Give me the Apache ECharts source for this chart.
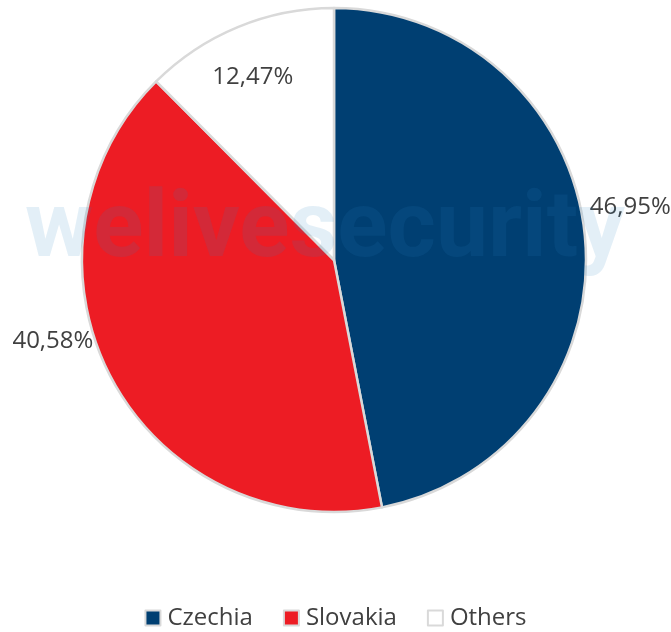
<!DOCTYPE html>
<html>
<head>
<meta charset="utf-8">
<script src="https://cdn.jsdelivr.net/npm/echarts@6/dist/echarts.min.js"></script>
<style>
  html, body { margin: 0; padding: 0; background: #fff; }
  #chart { width: 671px; height: 632px; }
</style>
</head>
<body>
<div id="chart"></div>
<script>
// 数据
const countries = ['Czechia', 'Slovakia', 'Others'];
const shares = [46.95, 40.58, 12.47];
const sliceColors = ['#003F72', '#ED1C24', '#FFFFFF'];

const COLORS = {
    text: '#404040',
    border: '#D9D9D9',
    watermark: 'rgba(40,130,190,0.13)'
};

const chart = echarts.init(document.getElementById('chart'));

const pieData = countries.map((name, i) => ({
    name: name,
    value: shares[i],
    itemStyle: { color: sliceColors[i] },
    label: { position: i === 2 ? 'inside' : 'outside' }
}));

// Excel 风格的标签位置微调
function labelShift(params) {
    if (params.dataIndex === 0) return { dy: -29 };
    if (params.dataIndex === 1) return { dx: -13, dy: -37 };
    return { dx: -32, dy: -64 };
}

const option = {
    animation: false,
    textStyle: { fontFamily: 'Open Sans' },
    legend: {
        top: 601,
        left: 'center',
        icon: 'rect',
        itemWidth: 15,
        itemHeight: 15,
        itemGap: 30,
        textStyle: { fontSize: 24, color: COLORS.text, fontFamily: 'Open Sans', padding: [0, 0, 0, 2] },
        data: countries
    },
    graphic: [{
        type: 'text',
        left: 25,
        top: 186,
        z: 100,
        silent: true,
        style: {
            text: 'welivesecurity',
            font: 'bold 93px Roboto',
            fill: COLORS.watermark
        }
    }],
    series: [{
        type: 'pie',
        center: [334, 260],
        radius: 252,
        startAngle: 90,
        clockwise: true,
        avoidLabelOverlap: false,
        itemStyle: { borderColor: COLORS.border, borderWidth: 2.5 },
        label: {
            show: true,
            fontSize: 24,
            color: COLORS.text,
            fontFamily: 'Open Sans',
            formatter: function(p) { return p.value.toFixed(2).replace('.', ',') + '%'; }
        },
        labelLine: { show: false, length: 0, length2: 0 },
        labelLayout: labelShift,
        emphasis: { disabled: true },
        data: pieData
    }]
};

chart.setOption(option);
</script>
</body>
</html>
